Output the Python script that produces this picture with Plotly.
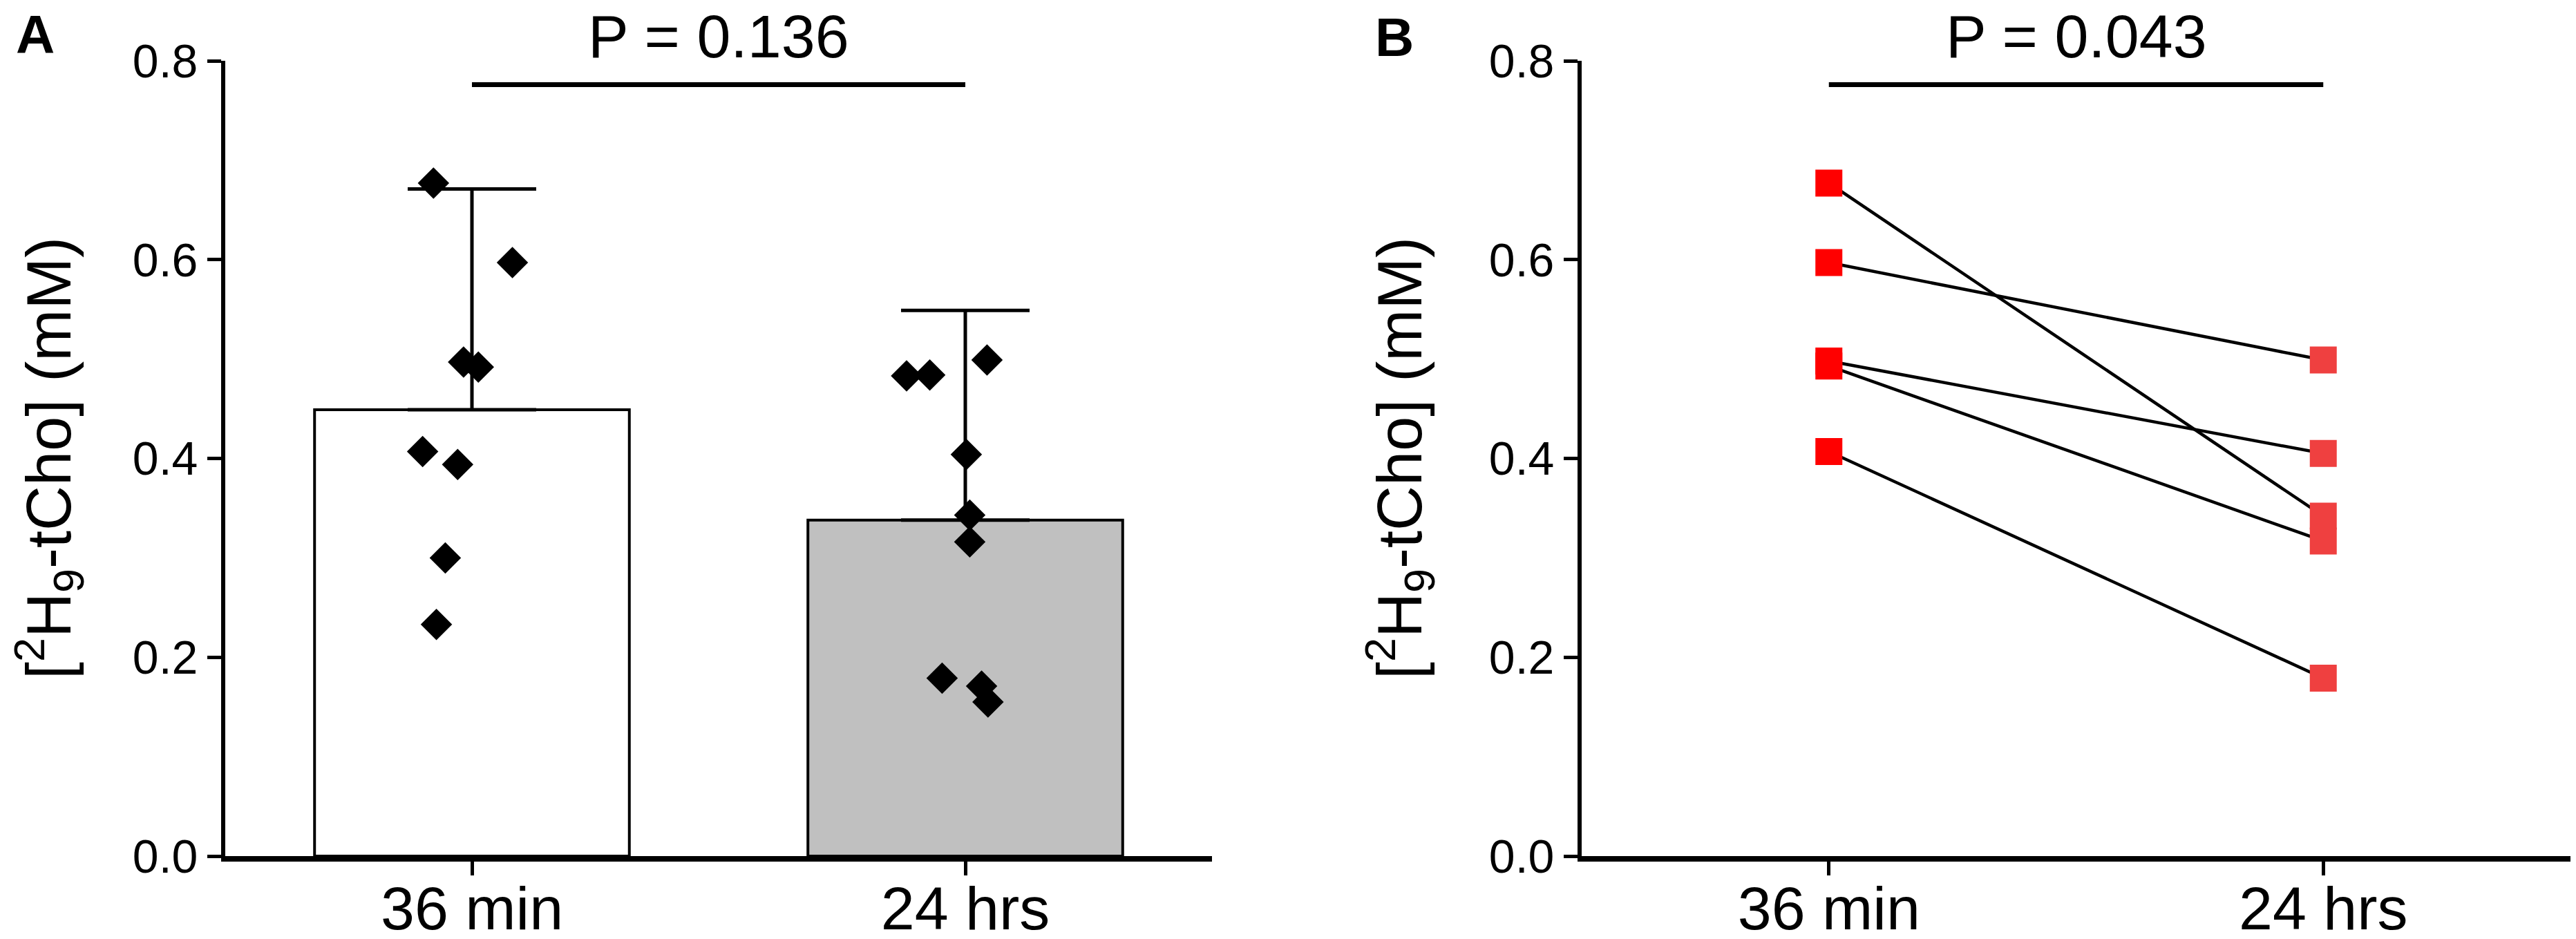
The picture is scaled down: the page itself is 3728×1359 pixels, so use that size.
import plotly.graph_objects as go

# values
categories = ["36 min", "24 hrs"]
bar_mean = [0.449, 0.338]
bar_err = [0.222, 0.211]
bar_fill = ["#ffffff", "#c0c0c0"]

# panel A individual points (values + horizontal jitter in category units)
pts_36min = [0.677, 0.597, 0.497, 0.492, 0.407, 0.394, 0.300, 0.233]
jit_36min = [-0.078, 0.082, -0.017, 0.013, -0.100, -0.029, -0.054, -0.072]
pts_24hrs = [0.483, 0.484, 0.499, 0.404, 0.343, 0.316, 0.179, 0.171, 0.155]
jit_24hrs = [-0.119, -0.072, 0.044, 0.002, 0.009, 0.009, -0.047, 0.033, 0.046]

# panel B paired values
pair_36min = [0.677, 0.597, 0.498, 0.493, 0.407]
pair_24hrs = [0.342, 0.499, 0.405, 0.317, 0.179]

p_text = ["P = 0.136", "P = 0.043"]
p_level = 0.776

FONT = "Arial, 'Liberation Sans', sans-serif"
W, H = 3728, 1359

fig = go.Figure()

# ---- panel A: bars with upward error bars
fig.add_trace(go.Bar(
    x=[0, 1], y=bar_mean, width=0.638,
    marker=dict(color=bar_fill, line=dict(color="black", width=4)),
    error_y=dict(type="data", symmetric=False, array=bar_err, arrayminus=[0, 0],
                 color="black", thickness=5, width=93),
    xaxis="x", yaxis="y", showlegend=False))

fig.add_trace(go.Scatter(
    x=[0 + j for j in jit_36min], y=pts_36min, mode="markers",
    marker=dict(symbol="diamond", size=35, color="black"),
    xaxis="x", yaxis="y", showlegend=False))
fig.add_trace(go.Scatter(
    x=[1 + j for j in jit_24hrs], y=pts_24hrs, mode="markers",
    marker=dict(symbol="diamond", size=35, color="black"),
    xaxis="x", yaxis="y", showlegend=False))

# ---- panel B: paired lines + squares
lx, ly = [], []
for a, b in zip(pair_36min, pair_24hrs):
    lx += [0, 1, None]
    ly += [a, b, None]
fig.add_trace(go.Scatter(x=lx, y=ly, mode="lines", line=dict(color="black", width=4.5),
                         xaxis="x2", yaxis="y2", showlegend=False))
fig.add_trace(go.Scatter(x=[0] * len(pair_36min), y=pair_36min, mode="markers",
                         marker=dict(symbol="square", size=39, color="#ff0000"),
                         xaxis="x2", yaxis="y2", showlegend=False))
fig.add_trace(go.Scatter(x=[1] * len(pair_24hrs), y=pair_24hrs, mode="markers",
                         marker=dict(symbol="square", size=39, color="#ef4040"),
                         xaxis="x2", yaxis="y2", showlegend=False))

# significance bars
for xr, yr in (("x", "y"), ("x2", "y2")):
    fig.add_shape(type="line", xref=xr, yref=yr, x0=0, x1=1, y0=p_level, y1=p_level,
                  line=dict(color="black", width=7))

xax = dict(range=[-0.5, 1.5], tickvals=[0, 1], ticktext=categories,
           ticks="outside", ticklen=20, tickwidth=5, tickcolor="black",
           showline=True, linewidth=8, linecolor="black",
           showgrid=False, zeroline=False, automargin=False,
           ticklabelstandoff=-28,
           tickfont=dict(family=FONT, size=88, color="black"))
yax = dict(range=[0, 0.8], tickvals=[0, 0.2, 0.4, 0.6, 0.8], tickformat=".1f",
           ticks="outside", ticklen=20, tickwidth=5, tickcolor="black",
           showline=True, linewidth=6, linecolor="black",
           showgrid=False, zeroline=False, automargin=False,
           tickfont=dict(family=FONT, size=68, color="black"))

ydom = [1 - 1231 / H, 1 - 80 / H]
fig.update_layout(
    width=W, height=H,
    margin=dict(l=0, r=0, t=0, b=0, autoexpand=False),
    paper_bgcolor="white", plot_bgcolor="white",
    font=dict(family=FONT, color="black"),
    xaxis=dict(xax, domain=[318 / W, 1746 / W], anchor="y"),
    yaxis=dict(yax, domain=ydom, anchor="x"),
    xaxis2=dict(xax, domain=[2281 / W, 3712 / W], anchor="y2"),
    yaxis2=dict(yax, domain=ydom, anchor="x2"),
)

ytitle = "[<sup>2</sup>H<sub>9</sub>-tCho] (mM)"
for xpos in (63 / W, 2018 / W):
    fig.add_annotation(text=ytitle, xref="paper", yref="paper", x=xpos, y=1 - 655 / H,
                       textangle=-90, showarrow=False, xanchor="center", yanchor="middle",
                       font=dict(family=FONT, size=90, color="black"))

for xr, txt in (("x", p_text[0]), ("x2", p_text[1])):
    fig.add_annotation(text=txt, xref=xr, yref="paper", x=0.5, y=1 - 44 / H,
                       showarrow=False, xanchor="center", yanchor="middle",
                       font=dict(family=FONT, size=88, color="black"))

for letter, xp, yp in (("A", 43, 42), ("B", 2010, 46)):
    fig.add_annotation(text="<b>" + letter + "</b>", xref="paper", yref="paper",
                       x=xp / W, y=1 - yp / H, showarrow=False,
                       xanchor="center", yanchor="middle",
                       font=dict(family=FONT, size=78, color="black"))

fig.write_html("out.html")
